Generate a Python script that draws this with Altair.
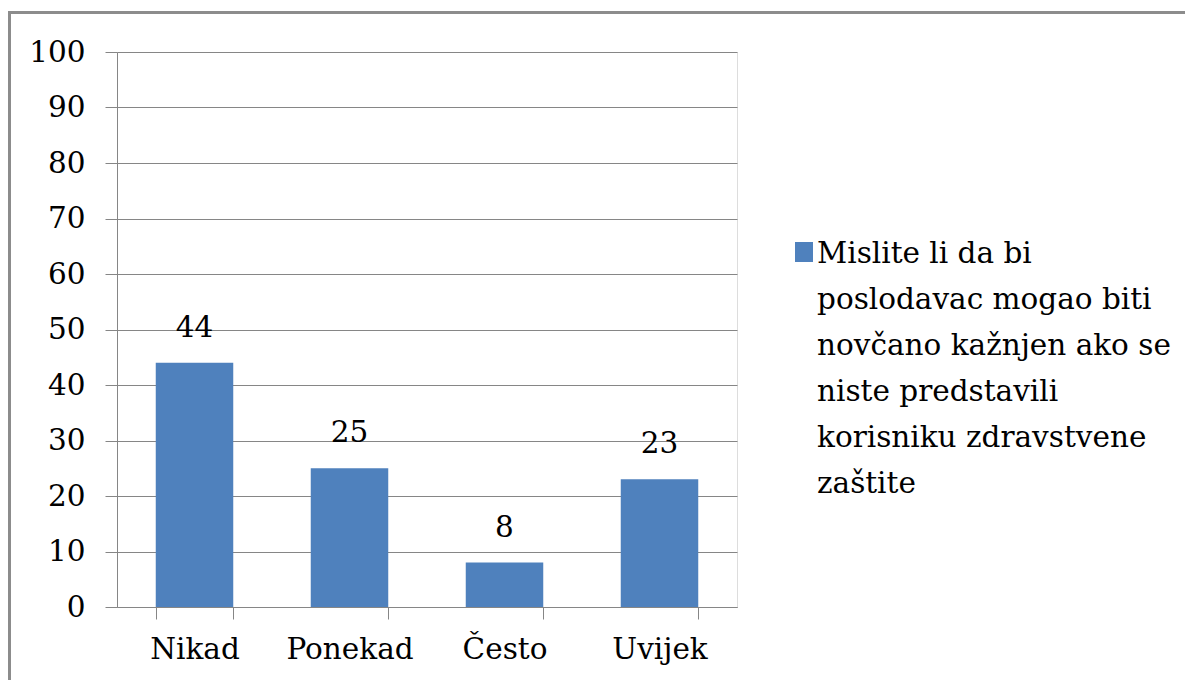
import altair as alt
import pandas as pd

categories = ["Nikad", "Ponekad", "Često", "Uvijek"]
values = [44, 25, 8, 23]
series_name = "Mislite li da bi|poslodavac mogao biti|novčano kažnjen ako se|niste predstavili|korisniku zdravstvene|zaštite"
y_ticks = [0, 10, 20, 30, 40, 50, 60, 70, 80, 90, 100]

df = pd.DataFrame({"cat": categories, "val": values})
leg_df = pd.DataFrame({"series": [series_name]})

FONT = "DejaVu Serif"
FS = 29.5
BLUE = "#4F81BD"
GRID = "#868686"

W, H = 620, 555
PL, PT = 109, 44
TOTW, TOTH = 1177, 672

base = alt.Chart(df)

bars = base.mark_bar(color=BLUE).encode(
    x=alt.X("cat:N", sort=categories, title=None,
            scale=alt.Scale(paddingInner=0.5, paddingOuter=0.25),
            axis=alt.Axis(labelAngle=0, labelFont=FONT, labelFontSize=FS, labelColor="#000000",
                          labelPadding=16, tickSize=12, tickColor=GRID, domainColor=GRID,
                          tickBand="extent", grid=False, labelBaseline="top")),
    y=alt.Y("val:Q", title=None,
            scale=alt.Scale(domain=[0, 100], nice=False),
            axis=alt.Axis(values=y_ticks, labelFont=FONT, labelFontSize=FS, labelColor="#000000",
                          labelPadding=20, tickSize=12, tickColor=GRID, domainColor=GRID,
                          gridColor=GRID, grid=True, gridWidth=1)),
)

labels = base.mark_text(font=FONT, fontSize=FS, color="#000000", baseline="alphabetic", dy=-26).encode(
    x=alt.X("cat:N", sort=categories),
    y="val:Q",
    text="val:Q",
)

leg_base = alt.Chart(leg_df)
leg_symbol = leg_base.mark_rect(color=BLUE).encode(
    x=alt.value(678), x2=alt.value(696), y=alt.value(190), y2=alt.value(210)
)
leg_text = leg_base.mark_text(font=FONT, fontSize=FS, color="#000000", align="left",
                              baseline="alphabetic", lineBreak="|", lineHeight=46).encode(
    x=alt.value(700), y=alt.value(211), text="series:N"
)

top_border = leg_base.mark_rule(color="#8c8c8c", strokeWidth=3).encode(
    x=alt.value(-PL + 1), x2=alt.value(TOTW), y=alt.value(-PT + 4.5)
)
left_border = leg_base.mark_rule(color="#8c8c8c", strokeWidth=3).encode(
    x=alt.value(-PL + 1.5), y=alt.value(-PT + 3), y2=alt.value(TOTH)
)

chart = alt.layer(bars, labels, leg_symbol, leg_text, top_border, left_border).properties(
    width=W, height=H,
    autosize=alt.AutoSizeParams(type="none"),
    padding={"left": PL, "top": PT, "right": TOTW - PL - W, "bottom": TOTH - PT - H},
).configure_view(stroke=None).configure(background="white")

chart.save("out.html", embed_options={"renderer": "svg", "actions": False})
